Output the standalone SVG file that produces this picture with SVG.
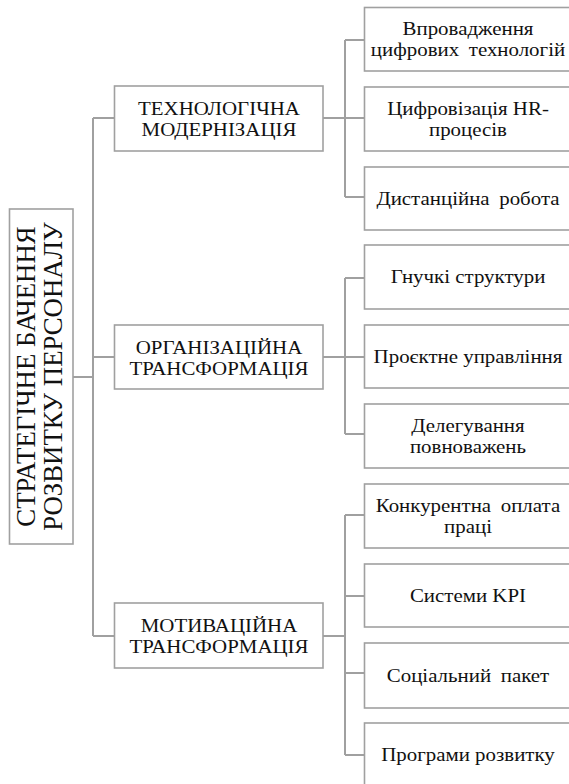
<svg xmlns="http://www.w3.org/2000/svg" width="569" height="784" viewBox="0 0 569 784">
<style>
.box{fill:#fff;stroke:#a0a0a0;stroke-width:1.6}
.con{fill:none;stroke:#a0a0a0;stroke-width:2}
text{font-family:"Liberation Serif","Times New Roman",serif;fill:#111;text-anchor:middle}
.root{font-size:26.8px}
.l2{font-size:19px}
.leaf{font-size:19px}
</style>
<rect width="569" height="784" fill="#fff"/>
<g id="connectors">
<path class="con" d="M73,377H93M93,118V636M93,118H114.5M93,357H114.5M93,636H114.5"/>
<path class="con" d="M323,118H345M345,40V197M345,40H364.5M345,118H364.5M345,197H364.5"/>
<path class="con" d="M323,357H345M345,278V434M345,278H364.5M345,357H364.5M345,434H364.5"/>
<path class="con" d="M323,636H345M345,515V755M345,515H364.5M345,596H364.5M345,673H364.5M345,755H364.5"/>
</g>
<g id="root">
<rect class="box" x="9.5" y="209" width="63.5" height="335"/>
<text class="root" transform="translate(35,376.5) rotate(-90)"><tspan x="0" y="0">СТРАТЕГІЧНЕ БАЧЕННЯ</tspan><tspan x="0" y="27">РОЗВИТКУ ПЕРСОНАЛУ</tspan></text>
</g>
<g id="tech">
<rect class="box" x="114.5" y="86" width="208.5" height="65"/>
<text class="l2" transform="matrix(1.1 0 0 1 -21.9 0)"><tspan x="219" y="115.5">ТЕХНОЛОГІЧНА</tspan><tspan x="219" y="136">МОДЕРНІЗАЦІЯ</tspan></text>
</g>
<g id="org">
<rect class="box" x="114.5" y="325" width="208.5" height="64"/>
<text class="l2" transform="matrix(1.1 0 0 1 -21.9 0)"><tspan x="219" y="354.5">ОРГАНІЗАЦІЙНА</tspan><tspan x="219" y="375">ТРАНСФОРМАЦІЯ</tspan></text>
</g>
<g id="mot">
<rect class="box" x="114.5" y="603" width="208.5" height="65"/>
<text class="l2" transform="matrix(1.1 0 0 1 -21.9 0)"><tspan x="219" y="632.5">МОТИВАЦІЙНА</tspan><tspan x="219" y="653">ТРАНСФОРМАЦІЯ</tspan></text>
</g>
<g id="leaf1">
<rect class="box" x="364.5" y="7.5" width="210" height="63.5"/>
<text class="leaf" transform="matrix(1.1 0 0 1 -46.8 0)"><tspan x="468" y="35.5">Впровадження</tspan><tspan x="468" y="56" word-spacing="4">цифрових технологій</tspan></text>
</g>
<g id="leaf2">
<rect class="box" x="364.5" y="87" width="210" height="64"/>
<text class="leaf" transform="matrix(1.1 0 0 1 -46.8 0)"><tspan x="468" y="115.5">Цифровізація HR-</tspan><tspan x="468" y="136">процесів</tspan></text>
</g>
<g id="leaf3">
<rect class="box" x="364.5" y="167" width="210" height="63"/>
<text class="leaf" transform="matrix(1.1 0 0 1 -46.8 0)" x="468" y="205" word-spacing="4">Дистанційна робота</text>
</g>
<g id="leaf4">
<rect class="box" x="364.5" y="245" width="210" height="64"/>
<text class="leaf" transform="matrix(1.1 0 0 1 -46.8 0)" x="468" y="283.5">Гнучкі структури</text>
</g>
<g id="leaf5">
<rect class="box" x="364.5" y="325" width="210" height="63"/>
<text class="leaf" transform="matrix(1.1 0 0 1 -46.8 0)" x="468" y="363">Проєктне управління</text>
</g>
<g id="leaf6">
<rect class="box" x="364.5" y="404" width="210" height="64"/>
<text class="leaf" transform="matrix(1.1 0 0 1 -46.8 0)"><tspan x="468" y="432.5">Делегування</tspan><tspan x="468" y="453">повноважень</tspan></text>
</g>
<g id="leaf7">
<rect class="box" x="364.5" y="484" width="210" height="64"/>
<text class="leaf" transform="matrix(1.1 0 0 1 -46.8 0)"><tspan x="468" y="512.5" word-spacing="4">Конкурентна оплата</tspan><tspan x="468" y="533">праці</tspan></text>
</g>
<g id="leaf8">
<rect class="box" x="364.5" y="564" width="210" height="63"/>
<text class="leaf" transform="matrix(1.1 0 0 1 -46.8 0)" x="468" y="602">Системи KPI</text>
</g>
<g id="leaf9">
<rect class="box" x="364.5" y="643" width="210" height="65"/>
<text class="leaf" transform="matrix(1.1 0 0 1 -46.8 0)" x="468" y="682" word-spacing="4">Соціальний пакет</text>
</g>
<g id="leaf10">
<rect class="box" x="364.5" y="723" width="210" height="66"/>
<text class="leaf" transform="matrix(1.1 0 0 1 -46.8 0)" x="468" y="761.5">Програми розвитку</text>
</g>
</svg>
